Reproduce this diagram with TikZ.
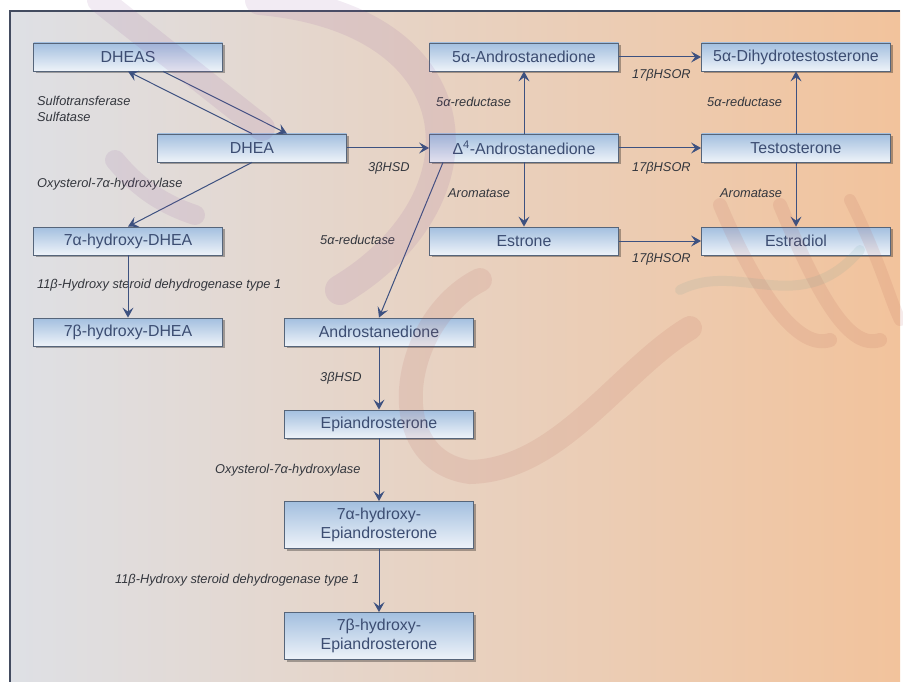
\documentclass[tikz,border=0pt]{standalone}
\usepackage{fontspec}
\setmainfont{Liberation Sans}
\usetikzlibrary{positioning}
\usetikzlibrary{shadows}
\usetikzlibrary{arrows.meta}

\definecolor{arrowblue}{HTML}{3D5180}
\definecolor{boxedge}{HTML}{56657A}
\definecolor{boxtop}{HTML}{A3BFDF}
\definecolor{boxbot}{HTML}{EEF3F9}
\definecolor{boxtext}{HTML}{3C4D72}
\definecolor{labeltext}{HTML}{33363D}
\definecolor{bgleft}{HTML}{DEE0E5}
\definecolor{bgmid}{HTML}{E7CDB9}
\definecolor{bgright}{HTML}{F2C39C}
\definecolor{frameline}{HTML}{434C60}
\definecolor{markpurple}{HTML}{8A4C9A}
\definecolor{markred}{HTML}{B0504A}
\definecolor{markteal}{HTML}{5E9A96}

\begin{document}
\begin{tikzpicture}[x=1pt,y=-1pt,
  metabox/.style={draw=boxedge, line width=0.8pt, top color=boxtop, bottom color=boxbot,
    minimum width=189pt, minimum height=28pt, inner sep=0pt, align=center,
    text=boxtext, font=\fontsize{15.9}{19}\selectfont,
    drop shadow={shadow xshift=2pt, shadow yshift=-2pt, fill=black, opacity=0.3}},
  tallbox/.style={metabox, minimum height=47pt},
  enzyme/.style={anchor=west, inner sep=0pt, align=left, text=labeltext,
    font=\fontsize{12.8}{16}\selectfont\itshape},
  flow/.style={arrowblue, line width=1pt, -{Stealth[length=10pt,width=11pt,inset=4pt]}},
  watermark/.style={line cap=round, opacity=0.11}]

\useasboundingbox (0,0) rectangle (903,682);
\fill[white] (0,0) rectangle (903,682);

% background and frame
\shade[left color=bgleft, middle color=bgmid, right color=bgright] (10,11) rectangle (900,682);
\draw[frameline, line width=2pt] (10,682) -- (10,11) -- (900,11);

% metabolites
\node[metabox] (dheas) at (128,57) {DHEAS};
\node[metabox] (dhea) at (252,148) {DHEA};
\node[metabox] (hydroxydhea7a) at (128,241) {7α-hydroxy-DHEA};
\node[metabox] (hydroxydhea7b) at (128,332) {7β-hydroxy-DHEA};

\node[metabox] (androdione5a) at (524,57) {5α-Androstanedione};
\node[metabox] (androdione4) at (524,148) {Δ\textsuperscript{4}-Androstanedione};
\node[metabox] (estrone) at (524,241) {Estrone};

\node[metabox] (dht) at (796,57) {5α-Dihydrotestosterone};
\node[metabox] (testosterone) at (796,148) {Testosterone};
\node[metabox] (estradiol) at (796,241) {Estradiol};

\node[metabox] (androstanedione) at (379,332) {Androstanedione};
\node[metabox] (epiandro) at (379,424) {Epiandrosterone};
\node[tallbox] (epi7a) at (379,525) {7α-hydroxy-\\Epiandrosterone};
\node[tallbox] (epi7b) at (379,636) {7β-hydroxy-\\Epiandrosterone};

% enzymes
\node[enzyme] (sulfo) at (37,109) {Sulfotransferase\\Sulfatase};
\node[enzyme] (oxya) at (37,184) {Oxysterol-7α-hydroxylase};
\node[enzyme] (hsdelevena) at (37,285) {11β-Hydroxy steroid dehydrogenase type 1};
\node[enzyme] (hsdthreea) at (368,168) {3βHSD};
\node[enzyme] (reda) at (320,240) {5α-reductase};
\node[enzyme] (redb) at (436,102) {5α-reductase};
\node[enzyme] (aroma) at (448,193) {Aromatase};
\node[enzyme] (hsora) at (632,75) {17βHSOR};
\node[enzyme] (hsorb) at (632,168) {17βHSOR};
\node[enzyme] (hsorc) at (632,259) {17βHSOR};
\node[enzyme] (redc) at (707,102) {5α-reductase};
\node[enzyme] (aromb) at (720,193) {Aromatase};
\node[enzyme] (hsdthreeb) at (320,378) {3βHSD};
\node[enzyme] (oxyb) at (215,470) {Oxysterol-7α-hydroxylase};
\node[enzyme] (hsdelevenb) at (115,580) {11β-Hydroxy steroid dehydrogenase type 1};

% reactions
\draw[flow] ([xshift=35pt]dheas.south) -- ([xshift=35pt]dhea.north);
\draw[flow] (dhea.north) -- (dheas.south);
\draw[flow] (dhea.south) -- (hydroxydhea7a.north);
\draw[flow] (hydroxydhea7a) -- (hydroxydhea7b);
\draw[flow] (dhea) -- (androdione4);
\draw[flow] (androdione4) -- (androdione5a);
\draw[flow] (androdione4) -- (estrone);
\draw[flow] ([xshift=-81pt]androdione4.south) -- (androstanedione.north);
\draw[flow] (androdione5a) -- (dht);
\draw[flow] (androdione4) -- (testosterone);
\draw[flow] (estrone) -- (estradiol);
\draw[flow] (testosterone) -- (dht);
\draw[flow] (testosterone) -- (estradiol);
\draw[flow] (androstanedione) -- (epiandro);
\draw[flow] (epiandro) -- (epi7a);
\draw[flow] (epi7a) -- (epi7b);

% faint watermark over the figure
\begin{scope}[watermark]
\draw[markpurple, line width=26pt] (100,0) -- (262,128);
\draw[markpurple, line width=30pt] (260,0) .. controls (480,20) and (490,200) .. (340,290);
\draw[markpurple, line width=20pt] (115,160) .. controls (140,190) and (165,205) .. (195,215);
\draw[markred, line width=24pt] (480,280) .. controls (400,320) and (380,460) .. (470,472)
  .. controls (560,470) and (620,370) .. (690,328);
\draw[markred, line width=14pt] (720,205) .. controls (760,300) and (800,350) .. (830,340);
\draw[markred, line width=14pt] (780,205) .. controls (820,300) and (850,350) .. (880,340);
\draw[markteal, line width=10pt] (680,290) .. controls (740,260) and (800,320) .. (860,250);
\draw[markred, line width=12pt] (850,200) .. controls (880,260) and (890,300) .. (900,320);
\end{scope}

\end{tikzpicture}
\end{document}
